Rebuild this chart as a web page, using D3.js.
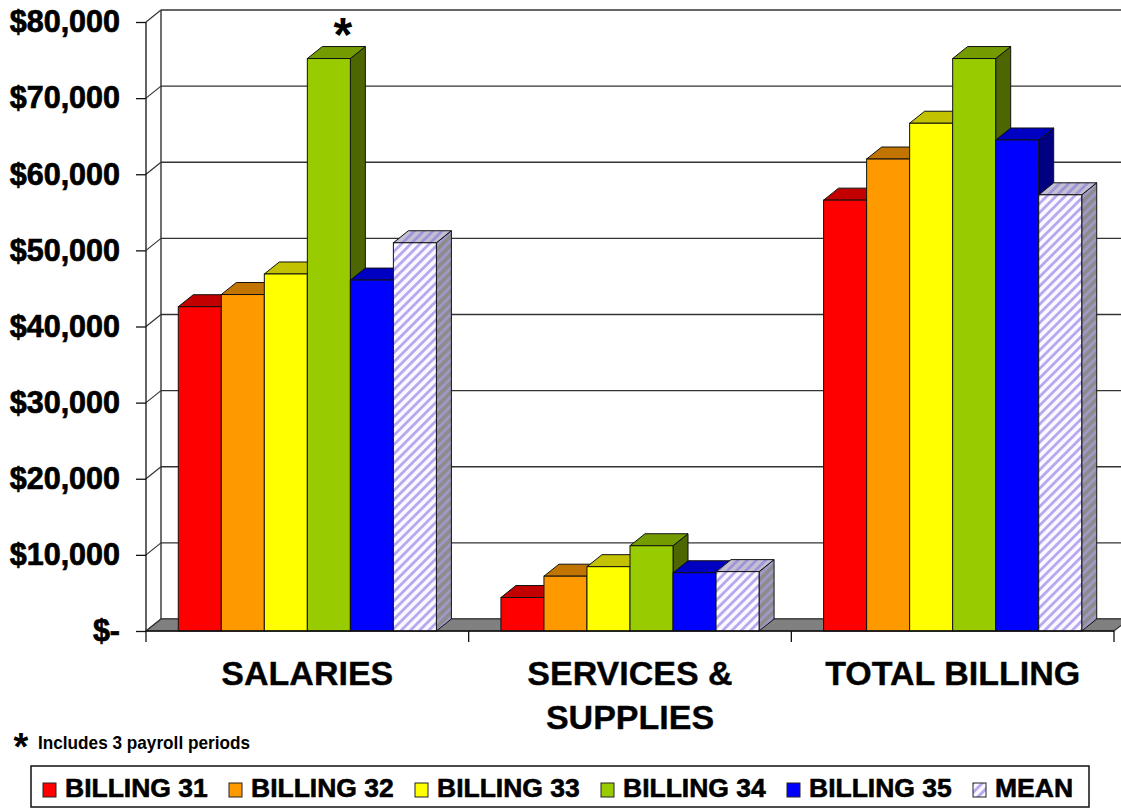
<!DOCTYPE html>
<html lang="en">
<head>
<meta charset="UTF-8">
<script src="https://d3js.org/d3.v7.min.js"></script>
<title>Billing comparison</title>
<style>
  body { margin: 0; background: #fff; }
  text { font-family: "Liberation Sans", Arial, sans-serif; font-weight: bold; fill: #000; }
</style>
</head>
<body>
<svg width="1121" height="808"></svg>
<script>
// data
var categories = ["SALARIES", "SERVICES & SUPPLIES", "TOTAL BILLING"];
var seriesNames = ["BILLING 31", "BILLING 32", "BILLING 33", "BILLING 34", "BILLING 35", "MEAN"];
var billing31 = [42600, 4400, 56600];
var billing32 = [44200, 7200, 62000];
var billing33 = [46900, 8450, 66700];
var billing34 = [75200, 11200, 75200];
var billing35 = [46100, 7650, 64500];
var mean = [51000, 7800, 57300];
var yTicks = [0, 10000, 20000, 30000, 40000, 50000, 60000, 70000, 80000];
var yTickLabels = ["$-", "$10,000", "$20,000", "$30,000", "$40,000", "$50,000", "$60,000", "$70,000", "$80,000"];
var footnote = "Includes 3 payroll periods";

var seriesValues = [billing31, billing32, billing33, billing34, billing35, mean];
var seriesColors = ["#ff0000", "#ff9900", "#ffff00", "#99cc00", "#0000ff", null];

var svg = d3.select("svg");
var dx = 15, dy = 12;

var x = d3.scaleBand().domain(categories).range([146, 1114]).padding(0);
var xs = d3.scaleBand().domain(seriesNames).range([0, x.bandwidth()]).paddingInner(0).paddingOuter(0.75);
var y = d3.scaleLinear().domain([0, 80000]).range([631, 22]);

// patterns for the MEAN series
var defs = svg.append("defs");
function stripes(id, bg, fg) {
	var p = defs.append("pattern")
		.attr("id", id)
		.attr("patternUnits", "userSpaceOnUse")
		.attr("width", 6.5).attr("height", 6.5)
		.attr("patternTransform", "rotate(45)");
	p.append("rect").attr("width", 6.5).attr("height", 6.5).attr("fill", bg);
	p.append("rect").attr("width", 2.8).attr("height", 6.5).attr("fill", fg);
}
stripes("meanFront", "#fcf8ff", "#b8a8f0");
stripes("meanTop", "#c4c0d4", "#a194d6");
stripes("meanSide", "#8c8c8c", "#a198c8");

function shade(c, k) {
	if (!c) return null;
	var r = d3.rgb(c);
	return d3.rgb(r.r * k, r.g * k, r.b * k).formatHex();
}

// back wall gridlines + side wall diagonals
var wall = svg.append("g");
wall.selectAll(".grid")
	.data(yTicks)
	.enter()
	.append("line")
	.attr("x1", 146 + dx).attr("x2", 1114 + dx + 20)
	.attr("y1", function(d){ return y(d) - dy; })
	.attr("y2", function(d){ return y(d) - dy; })
	.attr("stroke", "#333").attr("stroke-width", 1.4);
wall.selectAll(".diag")
	.data(yTicks)
	.enter()
	.append("line")
	.attr("x1", 146).attr("x2", 146 + dx)
	.attr("y1", function(d){ return y(d); })
	.attr("y2", function(d){ return y(d) - dy; })
	.attr("stroke", "#333").attr("stroke-width", 1.2);
wall.append("line")
	.attr("x1", 146 + dx).attr("x2", 146 + dx)
	.attr("y1", y(80000) - dy).attr("y2", y(0) - dy)
	.attr("stroke", "#333").attr("stroke-width", 1.4);

// floor
var x0f = x.range()[0], x1f = x.range()[1];
svg.append("polygon")
	.attr("points", [[x0f, y(0)], [x1f, y(0)], [x1f + dx, y(0) - dy], [x0f + dx, y(0) - dy]].join(" "))
	.attr("fill", "#808080")
	.attr("stroke", "#333").attr("stroke-width", 1.2);

// bars
var bars = [];
categories.forEach(function(c, ci){
	seriesNames.forEach(function(s, si){
		bars.push({cat: c, series: s, si: si, value: seriesValues[si][ci]});
	});
});

var barG = svg.append("g").selectAll("g")
	.data(bars)
	.enter()
	.append("g");

var w = xs.bandwidth();
function bx(d){ return x(d.cat) + xs(d.series); }

barG.append("polygon")
	.attr("points", function(d){
		var l = bx(d) + w, t = y(d.value), b = y(0);
		return [[l, t], [l + dx, t - dy], [l + dx, b - dy], [l, b]].join(" ");
	})
	.attr("fill", function(d){ return seriesColors[d.si] ? shade(seriesColors[d.si], 0.5) : "url(#meanSide)"; })
	.attr("stroke", "#111").attr("stroke-width", 1);

barG.append("polygon")
	.attr("points", function(d){
		var l = bx(d), t = y(d.value);
		return [[l, t], [l + dx, t - dy], [l + w + dx, t - dy], [l + w, t]].join(" ");
	})
	.attr("fill", function(d){ return seriesColors[d.si] ? shade(seriesColors[d.si], 0.76) : "url(#meanTop)"; })
	.attr("stroke", "#111").attr("stroke-width", 1);

barG.append("rect")
	.attr("x", bx)
	.attr("y", function(d){ return y(d.value); })
	.attr("width", w)
	.attr("height", function(d){ return y(0) - y(d.value); })
	.attr("fill", function(d){ return seriesColors[d.si] || "url(#meanFront)"; })
	.attr("stroke", "#111").attr("stroke-width", 1);

// y axis
var yAxis = d3.axisLeft(y)
	.tickValues(yTicks)
	.tickFormat(function(d, i){ return yTickLabels[i]; })
	.tickSize(10)
	.tickSizeOuter(0)
	.tickPadding(16);
var yg = svg.append("g").attr("transform", "translate(146,0)").call(yAxis);
yg.select(".domain").remove();
yg.selectAll(".tick line").attr("stroke", "#111").attr("stroke-width", 1.3);
yg.selectAll(".tick text")
	.attr("font-size", 30.5)
	.attr("font-family", "\"Liberation Sans\", Arial, sans-serif")
	.attr("font-weight", "bold")
	.attr("fill", "#000")
	.attr("stroke", "#000")
	.attr("stroke-width", 0.7);
svg.append("line")
	.attr("x1", 146).attr("x2", 146)
	.attr("y1", y(80000)).attr("y2", y(0) + 11)
	.attr("stroke", "#111").attr("stroke-width", 1.3);

// category axis
svg.append("line")
	.attr("x1", x0f).attr("x2", x1f)
	.attr("y1", y(0)).attr("y2", y(0))
	.attr("stroke", "#111").attr("stroke-width", 1.3);
svg.selectAll(".ctick")
	.data(categories.map(function(c){ return x(c) + x.bandwidth(); }))
	.enter()
	.append("line")
	.attr("x1", function(d){ return d; }).attr("x2", function(d){ return d; })
	.attr("y1", y(0)).attr("y2", y(0) + 11)
	.attr("stroke", "#111").attr("stroke-width", 1.3);

var catLabels = svg.selectAll(".clabel")
	.data(categories)
	.enter()
	.append("text")
	.attr("text-anchor", "middle")
	.attr("font-size", 34)
	.attr("stroke", "#111")
	.attr("stroke-width", 0.4)
	.attr("x", function(d){ return x(d) + x.bandwidth() / 2; })
	.attr("y", y(0) + 54);
catLabels.each(function(d){
	var lines = d.indexOf(" & ") >= 0 ? [d.split(" & ")[0] + " &", d.split(" & ")[1]] : [d];
	var t = d3.select(this);
	lines.forEach(function(l, i){
		t.append("tspan")
			.attr("x", x(d) + x.bandwidth() / 2)
			.attr("dy", i === 0 ? 0 : 44)
			.text(l);
	});
});

// asterisk on BILLING 34 salaries
svg.append("text")
	.attr("x", x(categories[0]) + xs(seriesNames[3]) + w / 2 + 14)
	.attr("y", 51)
	.attr("text-anchor", "middle")
	.attr("font-size", 48)
	.text("*");

// footnote
svg.append("text")
	.attr("x", 21).attr("y", 760)
	.attr("text-anchor", "middle")
	.attr("font-size", 38)
	.text("*");
svg.append("text")
	.attr("x", 38).attr("y", 749)
	.attr("font-size", 19)
	.attr("textLength", 212)
	.attr("lengthAdjust", "spacingAndGlyphs")
	.text(footnote);

// legend
var legend = svg.append("g");
legend.append("rect")
	.attr("x", 31).attr("y", 766)
	.attr("width", 1058).attr("height", 41)
	.attr("fill", "#fff")
	.attr("stroke", "#111").attr("stroke-width", 1.5);
var items = legend.selectAll(".item")
	.data(seriesNames)
	.enter()
	.append("g")
	.attr("transform", function(d, i){ return "translate(" + (43 + i * 186) + ",0)"; });
items.append("rect")
	.attr("x", 0).attr("y", 783)
	.attr("width", 13).attr("height", 14)
	.attr("fill", function(d, i){ return seriesColors[i] || "url(#meanFront)"; })
	.attr("stroke", "#222").attr("stroke-width", 1);
items.append("text")
	.attr("x", 22).attr("y", 797)
	.attr("font-size", 26.5)
	.attr("stroke", "#000")
	.attr("stroke-width", 0.6)
	.text(function(d){ return d; });
</script>
</body>
</html>
